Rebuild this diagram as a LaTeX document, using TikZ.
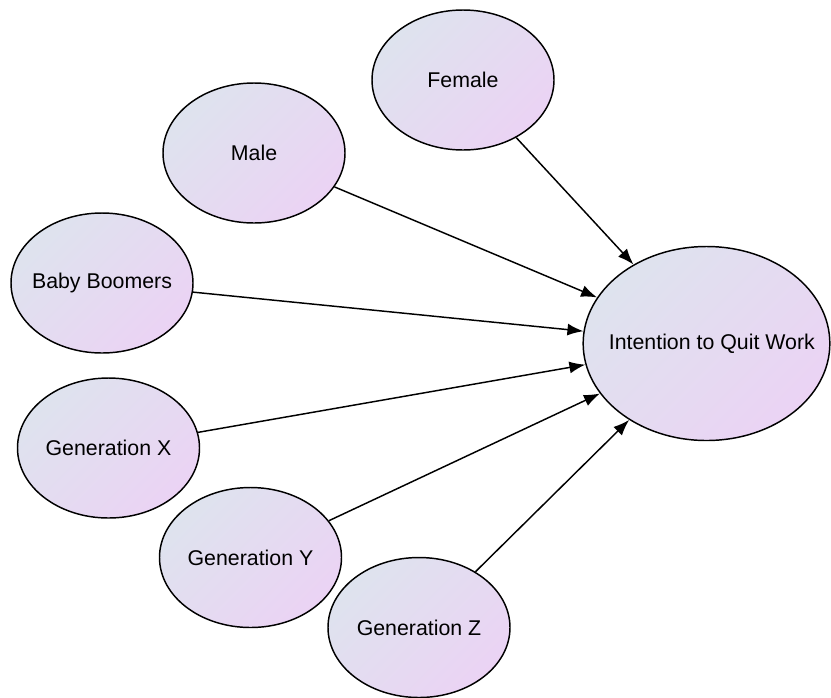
\documentclass[tikz,border=0pt]{standalone}
\usepackage{fontspec}
\setmainfont{Liberation Sans}
\usetikzlibrary{arrows.meta,shapes.geometric}
\definecolor{gA}{RGB}{222,227,238}
\definecolor{gB}{RGB}{235,211,244}
\tikzset{
  var/.style={ellipse, draw=black, line width=1.1pt, inner sep=0pt,
    top color=gA, bottom color=gB, shading angle=45,
    font=\fontsize{16}{19}\selectfont},
  small/.style={var, minimum width=136.5pt, minimum height=105pt},
  link/.style={line width=1.1pt, -{Latex[length=12pt,width=9pt]}}
}
\begin{document}
\begin{tikzpicture}[x=0.75pt,y=-0.75pt]
\useasboundingbox (0,0) rectangle (831,697);
\node[small] (fem) at (463,80) {\makebox[0pt]{Female}};
\node[small] (mal) at (254,153) {\makebox[0pt]{Male}};
\node[small] (bab) at (102,283) {\makebox[0pt]{Baby Boomers}};
\node[small] (gx) at (108.5,448) {\makebox[0pt]{Generation X}};
\node[small] (gy) at (250.5,557.5) {\makebox[0pt]{Generation Y}};
\node[small] (gz) at (419,627.5) {\makebox[0pt]{Generation Z}};
\node[var, minimum width=185pt, minimum height=145.5pt] (iq) at (706.5,343.5) {\makebox[0pt]{\hspace{8pt}Intention to Quit Work}};
\foreach \s in {fem,mal,bab,gx,gy,gz}
  \draw[link] (\s) -- (iq);
\end{tikzpicture}
\end{document}
